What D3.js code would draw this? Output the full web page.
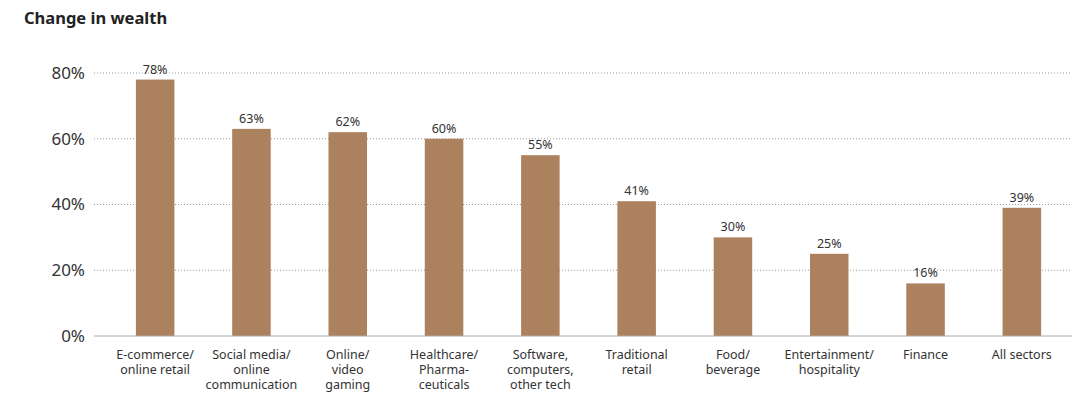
<!DOCTYPE html>
<html><head><meta charset="utf-8">
<script src="https://cdn.jsdelivr.net/npm/d3@7"></script>
<style>body{margin:0;background:#fff;font-family:"Noto Sans",sans-serif;}</style>
</head><body>
<svg id="c" width="1081" height="402"></svg>
<script>
const categories = [
  ["E-commerce/","online retail"],
  ["Social media/","online","communication"],
  ["Online/","video","gaming"],
  ["Healthcare/","Pharma-","ceuticals"],
  ["Software,","computers,","other tech"],
  ["Traditional","retail"],
  ["Food/","beverage"],
  ["Entertainment/","hospitality"],
  ["Finance"],
  ["All sectors"]
];
const values = [78, 63, 62, 60, 55, 41, 30, 25, 16, 39];
const yTicks = [0, 20, 40, 60, 80];
const title = "Change in wealth";

const svg = d3.select("#c");
const x = d3.scaleBand().domain(d3.range(values.length)).range([107, 1070]).paddingInner(0.6).paddingOuter(0.3);
const y = d3.scaleLinear().domain([0, 80]).range([336, 73]);

svg.append("text").attr("x", 24).attr("y", 24).attr("font-size", 16.5).attr("font-weight", "bold").attr("fill", "#222").text(title);

const g = svg.append("g");
yTicks.forEach(t => {
  if (t > 0) {
    g.append("line").attr("x1", 94).attr("x2", 1072).attr("y1", y(t)).attr("y2", y(t))
      .attr("stroke", "#999").attr("stroke-width", 1).attr("stroke-dasharray", "1,2");
  }
  g.append("text").attr("x", 85).attr("y", y(t)).attr("dy", "0.35em").attr("text-anchor", "end")
    .attr("font-size", 17).attr("fill", "#333").text(t + "%");
});

svg.selectAll("rect.bar").data(values).join("rect").attr("class", "bar")
  .attr("x", (d, i) => x(i)).attr("width", x.bandwidth())
  .attr("y", d => y(d)).attr("height", d => y(0) - y(d)).attr("fill", "#ac825e");

svg.append("line").attr("x1", 94).attr("x2", 1072).attr("y1", y(0)).attr("y2", y(0)).attr("stroke", "#aaa").attr("stroke-width", 1);

svg.selectAll("text.val").data(values).join("text").attr("class", "val")
  .attr("x", (d, i) => x(i) + x.bandwidth() / 2).attr("y", d => y(d) - 6)
  .attr("text-anchor", "middle").attr("font-size", 12.5).attr("fill", "#333").text(d => d + "%");

categories.forEach((lines, i) => {
  const t = svg.append("text").attr("text-anchor", "middle").attr("font-size", 12.5).attr("fill", "#333");
  lines.forEach((l, j) => {
    t.append("tspan").attr("x", x(i) + x.bandwidth() / 2).attr("y", 359 + j * 15).text(l);
  });
});
</script>
</body></html>
